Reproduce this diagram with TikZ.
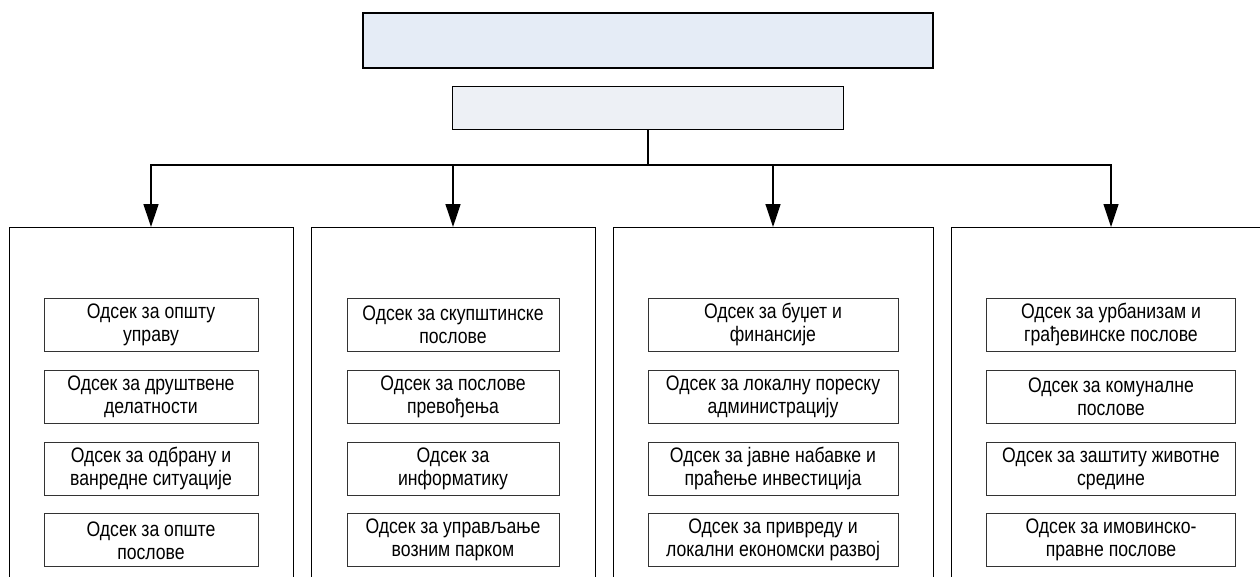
\documentclass[tikz,border=0pt]{standalone}
\usepackage{fontspec}
\setmainfont{Liberation Sans}[FakeStretch=0.84]
\usetikzlibrary{positioning}
\usetikzlibrary{arrows.meta}

\definecolor{mayorfill}{HTML}{E5ECF6}
\definecolor{chieffill}{HTML}{EDF0F5}

\tikzset{
  mayor/.style={draw, line width=2pt, fill=mayorfill, minimum width=570pt, minimum height=55pt, inner sep=0pt},
  chief/.style={draw, line width=1pt, fill=chieffill, minimum width=391pt, minimum height=43pt, inner sep=0pt},
  panel/.style={draw, line width=1pt, anchor=north, minimum height=400pt, inner sep=0pt},
  unit/.style={draw=black!80, line width=0.8pt, align=center, minimum height=53pt, inner sep=0pt, font=\fontsize{21}{23}\selectfont},
  link/.style={line width=1.3pt},
  arr/.style={link, -{Triangle[length=23pt,width=15pt]}}
}

\begin{document}
\begin{tikzpicture}[x=1pt,y=-1pt]
\clip (0,0) rectangle (1260,576);

% Top of the chart
\node[mayor] (mayor) at (648,40.5) {};
\node[chief, below=17pt of mayor] (chief) {};
\coordinate[below=35pt of chief.south] (bar);

% The four panels
\node[panel, minimum width=284pt] (p1) at (151,227) {};
\node[panel, minimum width=284pt] (p2) at (453,227) {};
\node[panel, minimum width=320pt] (p3) at (773,227) {};
\node[panel, minimum width=320pt] (p4) at (1111,227) {};

% Connectors
\draw[link] (chief.south) -- (bar);
\foreach \p in {p1,p2,p3,p4}
  \draw[arr] (bar) -| (\p.north);

% Panel 1
\node[unit, minimum width=214pt, below=71pt of p1.north] (u11) {Одсек за општу\\управу};
\node[unit, minimum width=214pt, below=18pt of u11] (u12) {Одсек за друштвене\\делатности};
\node[unit, minimum width=214pt, below=18pt of u12] (u13) {Одсек за одбрану и\\ванредне ситуације};
\node[unit, minimum width=214pt, below=18pt of u13] (u14) {Одсек за опште\\послове};

% Panel 2
\node[unit, minimum width=212pt, below=71pt of p2.north] (u21) {Одсек за скупштинске\\послове};
\node[unit, minimum width=212pt, below=18pt of u21] (u22) {Одсек за послове\\превођења};
\node[unit, minimum width=212pt, below=18pt of u22] (u23) {Одсек за\\информатику};
\node[unit, minimum width=212pt, below=18pt of u23] (u24) {Одсек за управљање\\возним парком};

% Panel 3
\node[unit, minimum width=250pt, below=71pt of p3.north] (u31) {Одсек за буџет и\\финансије};
\node[unit, minimum width=250pt, below=18pt of u31] (u32) {Одсек за локалну пореску\\администрацију};
\node[unit, minimum width=250pt, below=18pt of u32] (u33) {Одсек за јавне набавке и\\праћење инвестиција};
\node[unit, minimum width=250pt, below=18pt of u33] (u34) {Одсек за привреду и\\локални економски развој};

% Panel 4
\node[unit, minimum width=249pt, below=71pt of p4.north] (u41) {Одсек за урбанизам и\\грађевинске послове};
\node[unit, minimum width=249pt, below=18pt of u41] (u42) {Одсек за комуналне\\послове};
\node[unit, minimum width=249pt, below=18pt of u42] (u43) {Одсек за заштиту животне\\средине};
\node[unit, minimum width=249pt, below=18pt of u43] (u44) {Одсек за имовинско-\\правне послове};

\end{tikzpicture}
\end{document}
